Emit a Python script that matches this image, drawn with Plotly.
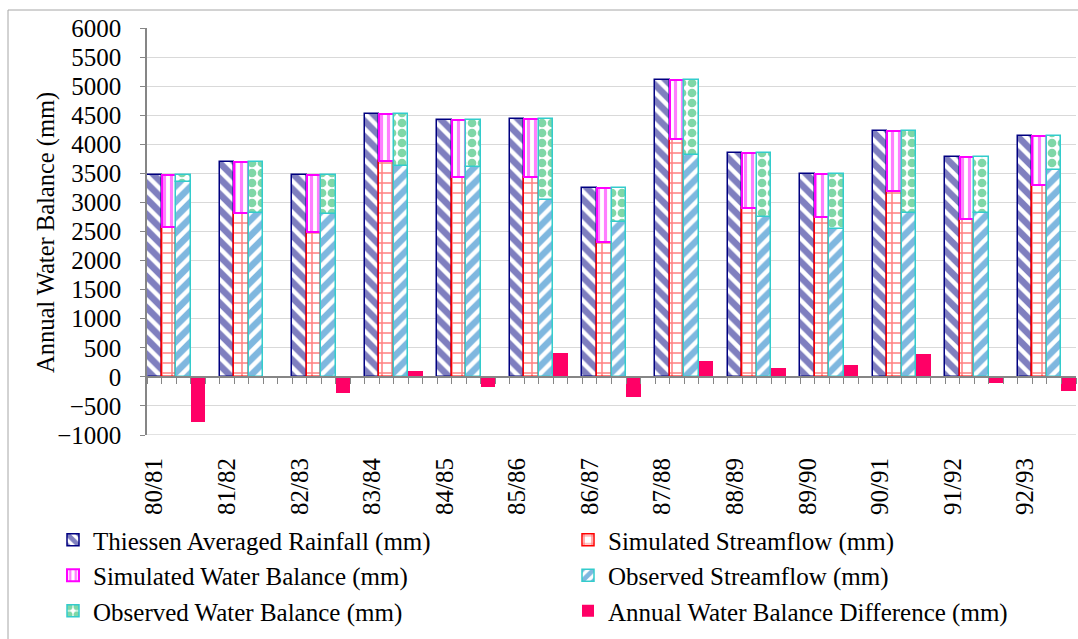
import numpy as np
import plotly.graph_objects as go

# ---------------- data ----------------
years = ["80/81", "81/82", "82/83", "83/84", "84/85", "85/86", "86/87",
         "87/88", "88/89", "89/90", "90/91", "91/92", "92/93"]
rainfall = [3475, 3687, 3475, 4513, 4416, 4433, 3246, 5098, 3848, 3487, 4232, 3773, 4134]
sim_streamflow = [2575, 2816, 2500, 3716, 3429, 3435, 2327, 4095, 2902, 2757, 3200, 2718, 3303]
sim_balance = [900, 871, 975, 797, 987, 998, 919, 1003, 946, 730, 1032, 1055, 831]
obs_streamflow = [3360, 2810, 2800, 3630, 3607, 3045, 2671, 3819, 2757, 2546, 2826, 2816, 3561]
obs_balance = [115, 877, 675, 883, 809, 1388, 575, 1279, 1091, 941, 1406, 957, 573]
balance_diff = [-775, 0, -270, 100, -168, 405, -340, 274, 148, 205, 394, -110, -237]

names = ["Thiessen Averaged Rainfall (mm)", "Simulated Streamflow (mm)",
         "Simulated Water Balance (mm)", "Observed Streamflow (mm)",
         "Observed Water Balance (mm)", "Annual Water Balance Difference (mm)"]

# ---------------- slot layout (Excel style clustered-stacked) ----------------
SLOTS = 5
n = len(years)
base = np.arange(n) * SLOTS
x_rain, x_sim, x_obs, x_diff = base, base + 1, base + 2, base + 3
n_slots = n * SLOTS - 1
xr = [-0.5, n_slots - 0.5]

FONT = "Liberation Serif"
GRID = "#d9d9d9"
AXIS = "#868686"
TURQ = "#33CCCC"

fig = go.Figure()
fig.add_trace(go.Bar(x=x_rain, y=rainfall, name=names[0], width=1,
                     marker=dict(color="white", line=dict(color="#000080", width=1.5),
                                 pattern=dict(shape="\\", fgcolor="#000080", bgcolor="white",
                                              size=11, solidity=0.6))))
fig.add_trace(go.Bar(x=x_sim, y=sim_streamflow, name=names[1], width=1,
                     marker=dict(color="white", line=dict(color="#FF0000", width=1.5),
                                 pattern=dict(shape="+", fgcolor="#FF0000", bgcolor="white",
                                              size=10, solidity=0.28))))
fig.add_trace(go.Bar(x=x_sim, y=sim_balance, name=names[2], width=1,
                     marker=dict(color="white", line=dict(color="#FF00FF", width=2),
                                 pattern=dict(shape="|", fgcolor="#FF00FF", bgcolor="white",
                                              size=7, solidity=0.45))))
fig.add_trace(go.Bar(x=x_obs, y=obs_streamflow, name=names[3], width=1,
                     marker=dict(color="white", line=dict(color=TURQ, width=1.5),
                                 pattern=dict(shape="/", fgcolor="#0070C0", bgcolor="white",
                                              size=11, solidity=0.6))))
fig.add_trace(go.Bar(x=x_obs, y=obs_balance, name=names[4], width=1,
                     marker=dict(color="white", line=dict(color=TURQ, width=1.5),
                                 pattern=dict(shape=".", fgcolor="#00B050", bgcolor="white",
                                              size=10, solidity=0.6))))
fig.add_trace(go.Bar(x=x_diff, y=balance_diff, name=names[5], width=1,
                     marker=dict(color="#FF0066", line=dict(width=0))))

# helper trace for the zero-crossing category axis
fig.add_trace(go.Scatter(x=[0], y=[0], xaxis="x2", mode="markers",
                         marker=dict(opacity=0), showlegend=False, hoverinfo="skip"))

W, H = 1078, 639
L, R, T, B = 147, 2, 28, 204
pw, ph = W - L - R, H - T - B
ymin, ymax = -1000, 6000

fig.update_layout(
    width=W, height=H,
    margin=dict(l=L, r=R, t=T, b=B, autoexpand=False),
    paper_bgcolor="white", plot_bgcolor="white",
    barmode="relative", bargap=0,
    font=dict(family=FONT, color="black"),
    xaxis=dict(range=xr, tickmode="array", tickvals=list(x_rain), ticktext=years,
               tickangle=-90, showline=False, showgrid=False, zeroline=False,
               ticks="", ticklabelstandoff=17, tickfont=dict(size=25, family=FONT)),
    xaxis2=dict(range=xr, overlaying="x", anchor="free",
                position=(0 - ymin) / (ymax - ymin),
                tickmode="array", tickvals=list(np.arange(n_slots + 1) - 0.5),
                ticks="outside", ticklen=6, tickcolor=AXIS, tickwidth=1.3,
                showticklabels=False, showline=True, linecolor=AXIS, linewidth=1.5,
                showgrid=False, zeroline=False),
    yaxis=dict(range=[ymin, ymax], dtick=500, tick0=0, showline=True, linecolor=AXIS,
               linewidth=1.5, ticks="outside", ticklen=5, tickcolor=AXIS, tickwidth=1.3,
               showgrid=True, gridcolor=GRID, gridwidth=1.3, zeroline=False,
               ticklabelstandoff=14, tickfont=dict(size=25, family=FONT)),
    legend=dict(orientation="h", x=(53 - L) / pw, xanchor="left",
                y=-(517 - (T + ph)) / ph, yanchor="top",
                entrywidth=470, entrywidthmode="pixels", traceorder="normal",
                font=dict(size=25, family=FONT), bgcolor="rgba(0,0,0,0)"),
    showlegend=True,
)

# bottom gridline at the lower range limit
fig.add_shape(type="line", xref="paper", yref="y", x0=0, x1=1, y0=ymin, y1=ymin,
              line=dict(color=GRID, width=1.3), layer="below")

# y-axis title
fig.add_annotation(text="Annual Water Balance (mm)", xref="paper", yref="paper",
                   x=(46 - L) / pw, y=(T + ph - 233) / ph, xanchor="center", yanchor="middle",
                   textangle=-90, showarrow=False, font=dict(size=24.5, family=FONT, color="black"))

# chart-area border
fig.add_shape(type="rect", xref="paper", yref="paper",
              x0=(8 - L) / pw, x1=(W + 20 - L) / pw,
              y0=(T + ph - (H + 20)) / ph, y1=(T + ph - 10) / ph,
              line=dict(color="#a6a6a6", width=1), fillcolor="rgba(0,0,0,0)", layer="below")

fig.write_html("out.html", config={"displayModeBar": False},
               post_script="document.body.style.margin='0';")
